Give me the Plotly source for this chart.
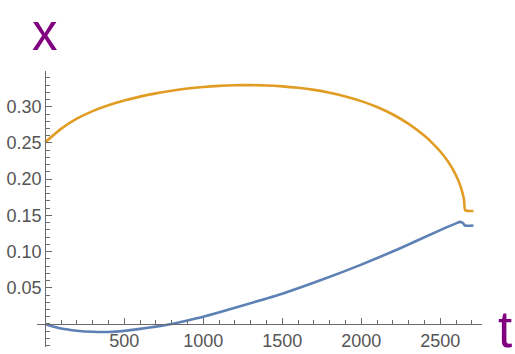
import plotly.graph_objects as go

# x(t) series
t_orange = [0, 100, 200, 300, 400, 500, 600, 700, 800, 900, 1000, 1100, 1200, 1300, 1400,
            1500, 1600, 1700, 1800, 1900, 2000, 2100, 2200, 2300, 2400, 2450, 2500, 2550,
            2600, 2630, 2650, 2658, 2710]
x_orange = [0.251, 0.2695, 0.2835, 0.294, 0.302, 0.3085, 0.314, 0.3185, 0.3222, 0.3252,
            0.3274, 0.3289, 0.3297, 0.3299, 0.3294, 0.3282, 0.3262, 0.3233, 0.3194, 0.3143,
            0.3078, 0.2996, 0.2893, 0.2763, 0.2598, 0.2498, 0.2382, 0.224, 0.205, 0.189,
            0.172, 0.157, 0.156]

t_blue = [0, 50, 100, 200, 300, 400, 500, 600, 700, 800, 900, 1000, 1250, 1500, 1750,
          2000, 2250, 2500, 2600, 2625, 2645, 2656, 2710]
x_blue = [0.0, -0.0035, -0.0063, -0.0093, -0.0108, -0.011, -0.0095, -0.0068, -0.0037, 0.0,
          0.0048, 0.0100, 0.0255, 0.0418, 0.0610, 0.0820, 0.1050, 0.1297, 0.1390, 0.1410,
          0.1390, 0.1360, 0.1360]

x_ticks = [500, 1000, 1500, 2000, 2500]
y_ticks = [0.05, 0.10, 0.15, 0.20, 0.25, 0.30]

x_range = [-52, 2764]
y_range = [-0.0318, 0.3494]

axis_grey = '#6b6b6b'
label_grey = '#555555'
font = 'Liberation Sans, Arial, sans-serif'

fig = go.Figure()
fig.add_trace(go.Scatter(x=t_orange, y=x_orange, mode='lines',
                         line=dict(color='#E19C24', width=2.6, shape='spline', smoothing=0.6)))
fig.add_trace(go.Scatter(x=t_blue, y=x_blue, mode='lines',
                         line=dict(color='#5E81B5', width=2.6, shape='spline', smoothing=0.6)))

# axes cross at the origin, like Mathematica's default
x_pos = (0 - y_range[0]) / (y_range[1] - y_range[0])
y_pos = (0 - x_range[0]) / (x_range[1] - x_range[0])

fig.update_layout(
    width=515, height=354,
    margin=dict(l=37, r=33, t=71, b=7),
    plot_bgcolor='white', paper_bgcolor='white',
    showlegend=False,
    font=dict(family=font, size=18, color=label_grey),
    xaxis=dict(range=x_range, anchor='free', position=x_pos, automargin=False,
               showgrid=False, zeroline=False,
               showline=True, linecolor=axis_grey, linewidth=1.3,
               tickmode='array', tickvals=x_ticks, ticks='inside', ticklen=6,
               tickcolor=axis_grey, tickwidth=1.2,
               minor=dict(tickmode='linear', tick0=0, dtick=100, ticks='inside', ticklen=3.5,
                          tickcolor=axis_grey, tickwidth=1.1),
               tickfont=dict(family=font, size=18, color=label_grey)),
    yaxis=dict(range=y_range, anchor='free', position=y_pos, automargin=False,
               showgrid=False, zeroline=False,
               showline=True, linecolor=axis_grey, linewidth=1.3,
               tickmode='array', tickvals=y_ticks, ticktext=['%.2f' % v for v in y_ticks],
               ticks='inside', ticklen=6, tickcolor=axis_grey, tickwidth=1.2,
               minor=dict(tickmode='linear', tick0=0, dtick=0.01, ticks='inside', ticklen=3.5,
                          tickcolor=axis_grey, tickwidth=1.1),
               tickfont=dict(family=font, size=18, color=label_grey)),
    annotations=[
        dict(text='x', xref='paper', yref='paper', x=0.0173, y=1.141, showarrow=False,
             height=44, valign='middle',
             xanchor='center', yanchor='middle', font=dict(family=font, size=51, color='#800080')),
        dict(text='t', xref='paper', yref='paper', x=1.052, y=0.065, showarrow=False,
             height=44, valign='middle',
             xanchor='center', yanchor='middle', font=dict(family=font, size=51, color='#800080')),
    ],
)

# drop the browser's default body margin so the figure fills the window
fig.write_html("out.html", config={'displayModeBar': False},
               post_script="document.body.style.margin='0';")
